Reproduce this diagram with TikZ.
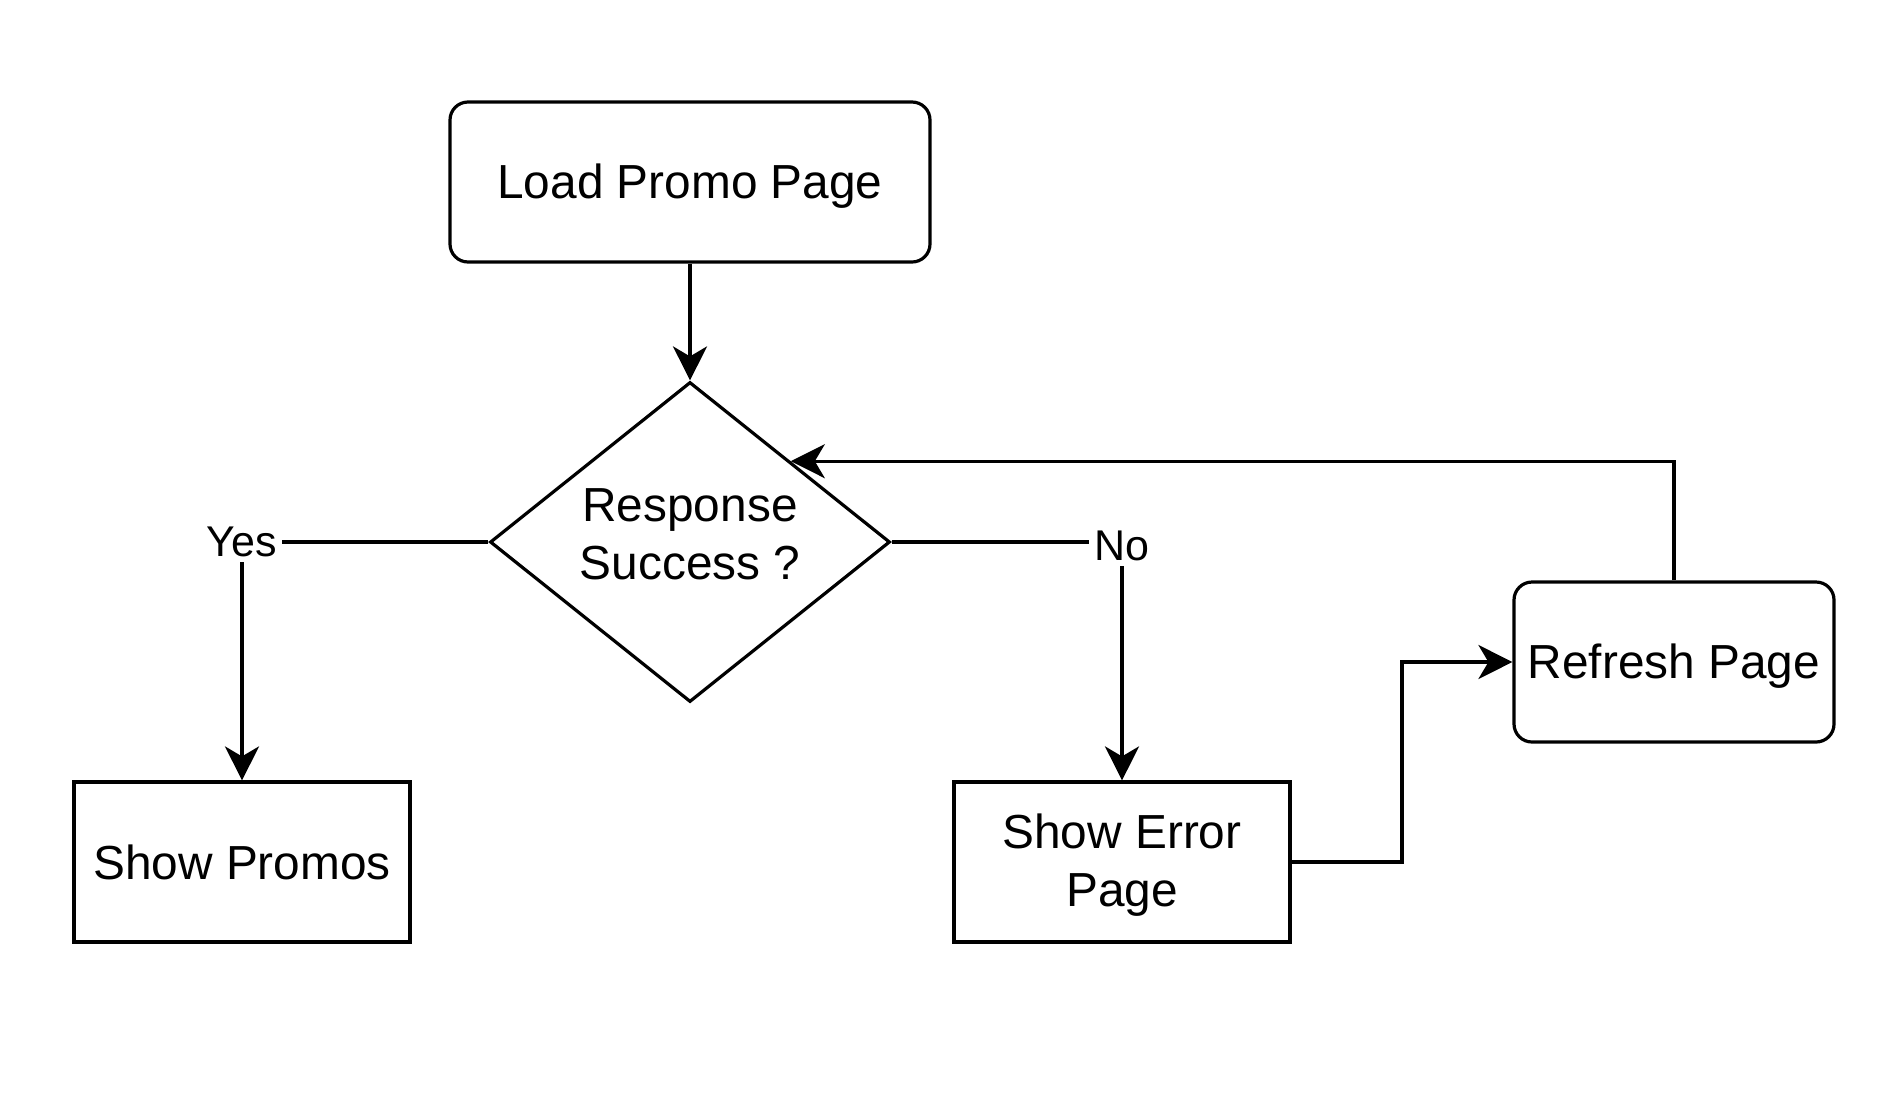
\documentclass[tikz,border=0pt]{standalone}
\usepackage{fontspec}
\setmainfont{Liberation Sans}
\usetikzlibrary{shapes.geometric,arrows.meta}
\newcommand\mvtext[2]{\raisebox{#1}[\height][\depth]{#2}}
\newcommand\twolines[2]{\begin{tabular}{@{}c@{}}#1\\#2\end{tabular}}
\begin{document}
\begin{tikzpicture}[x=0.5pt,y=-0.5pt,
  every node/.style={font=\fontsize{23.9pt}{28.8pt}\selectfont, align=center, inner sep=0pt},
  base/.style={draw=black, line width=1.6pt},
  rbox/.style={base, rounded corners=9pt, minimum width=240pt, minimum height=80pt},
  pbox/.style={base, minimum width=168pt, minimum height=80pt},
  dec/.style={base, diamond, minimum width=200pt, minimum height=160pt},
  lbl/.style={font=\fontsize{21.5pt}{25pt}\selectfont, fill=white, inner sep=2.5pt},
  conn/.style={line width=1.6pt, -{Stealth[length=17pt,width=17pt,inset=5pt]}},
  plain/.style={line width=1.6pt}
]
\useasboundingbox (0,0) rectangle (1882,1104);
\node[rbox] (load) at (690,182) {\mvtext{-2pt}{Load Promo Page}};
\node[dec] (resp) at (690,542) {\makebox[0pt]{\mvtext{1.5pt}{\twolines{Response}{Success ?}}}};
\node[pbox] (promos) at (242,862) {Show Promos};
\node[pbox] (error) at (1122,862) {\mvtext{-2pt}{\twolines{Show Error}{Page}}};
\node[rbox, minimum width=160pt] (refresh) at (1674,662) {\mvtext{-2pt}{Refresh Page}};
\node[lbl] (yes) at (242,542) {Yes};
\node[lbl] (no) at (1122,546) {No};
\coordinate (bend) at (1402,862);
\draw[conn] (load) -- (resp.north);
\draw[plain] (resp.west) -- (yes.east);
\draw[conn] (yes.south) -- (promos.north);
\draw[plain] (resp.east) -- (resp.east -| no.west);
\draw[conn] (no.south) -- (error.north);
\draw[conn] (error.east) -- (bend) |- (refresh.west);
\draw[conn] (refresh.north) |- (resp.north east);
\end{tikzpicture}
\end{document}
